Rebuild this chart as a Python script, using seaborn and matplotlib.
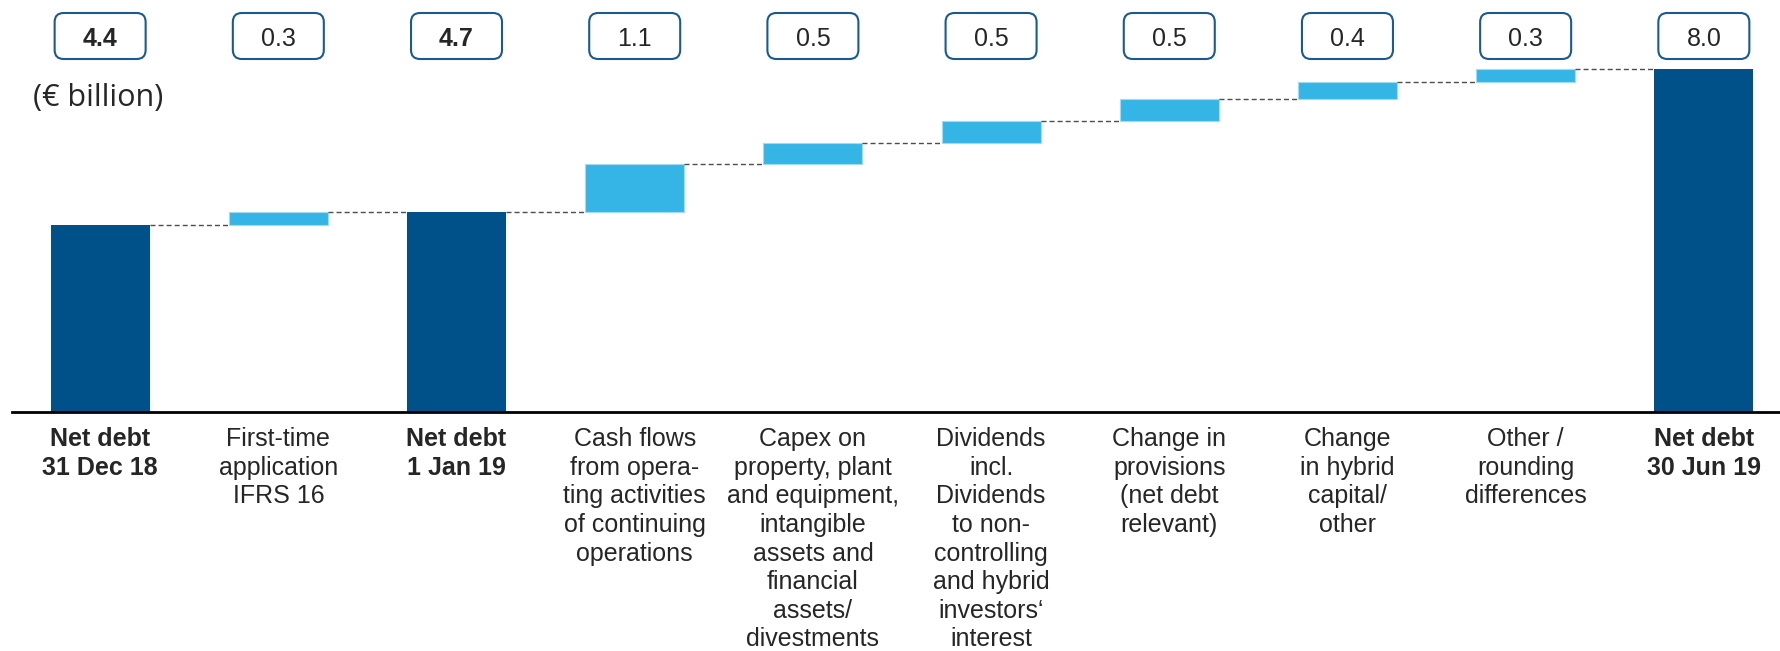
import matplotlib
matplotlib.use("Agg")
import matplotlib.pyplot as plt
import matplotlib.transforms as mtransforms
from matplotlib.patches import FancyBboxPatch
import seaborn as sns
import pandas as pd

# Net debt bridge (€ billion)
labels = [
    "Net debt\n31 Dec 18",
    "First-time\napplication\nIFRS 16",
    "Net debt\n1 Jan 19",
    "Cash flows\nfrom opera-\nting activities\nof continuing\noperations",
    "Capex on\nproperty, plant\nand equipment,\nintangible\nassets and\nfinancial\nassets/\ndivestments",
    "Dividends\nincl.\nDividends\nto non-\ncontrolling\nand hybrid\ninvestors\u2018\ninterest",
    "Change in\nprovisions\n(net debt\nrelevant)",
    "Change\nin hybrid\ncapital/\nother",
    "Other /\nrounding\ndifferences",
    "Net debt\n30 Jun 19",
]
values = [4.4, 0.3, 4.7, 1.1, 0.5, 0.5, 0.5, 0.4, 0.3, 8.0]
is_total = [True, False, True, False, False, False, False, False, False, True]
value_text = ["4.4", "0.3", "4.7", "1.1", "0.5", "0.5", "0.5", "0.4", "0.3", "8.0"]
bold_value = [True, False, True, False, False, False, False, False, False, False]
unit_label = "(\u20ac billion)"

DARK = "#005189"
LIGHT = "#35B5E6"
BOX_EDGE = "#1A5A90"
BAR_WIDTH = 0.556


def build_frame():
    """Turn the bridge values into bottoms/tops for floating bars"""
    rows = []
    level = 0.0
    for name, val, total in zip(labels, values, is_total):
        if total:
            bottom = 0.0
            level = val
        else:
            bottom = level
            level = level + val
        rows.append({"label": name, "height": val, "bottom": bottom,
                     "top": level, "total": total})
    return pd.DataFrame(rows)


sns.set_style("white")
plt.rcParams["font.family"] = ["Liberation Sans", "DejaVu Sans"]

df = build_frame()
fig = plt.figure(figsize=(17.81, 6.51), dpi=100)
ax = fig.add_axes([0.0066, 0.3671, 0.9934, 0.5469])

totals = df[df["total"]]
changes = df[~df["total"]]
sns.barplot(data=totals, x="label", y="height", order=labels, color=DARK,
            saturation=1, width=BAR_WIDTH, errorbar=None, linewidth=0, ax=ax)
sns.barplot(data=changes, x="label", y="height", order=labels, color=LIGHT,
            saturation=1, width=BAR_WIDTH, errorbar=None,
            bottom=changes["bottom"].values, edgecolor="#A3DAF3",
            linewidth=0.8, ax=ax)

# dashed connectors between consecutive bars
for i in range(len(df) - 1):
    ax.hlines(df["top"].iloc[i], i + BAR_WIDTH / 2, i + 1 - BAR_WIDTH / 2,
              colors="#4d4d4d", linestyles=(0, (3.6, 2.2)), linewidth=1.0)

ax.set_xlim(-0.496, 9.433)
ax.set_ylim(0.08, 8.3)
sns.despine(ax=ax, left=True)
ax.spines["bottom"].set_linewidth(2)
ax.spines["bottom"].set_color("black")
ax.set_xticks([])
ax.set_yticks([])
ax.set_xlabel("")
ax.set_ylabel("")

# category labels under the axis
for i, name in enumerate(labels):
    ax.annotate(name, xy=(i, 0), xycoords=ax.get_xaxis_transform(),
                xytext=(0, -11), textcoords="offset points",
                ha="center", va="top", fontsize=18, linespacing=1.24,
                fontweight="bold" if is_total[i] else "normal",
                annotation_clip=False)

# value boxes along the top
box_y = 1 - 36 / 651
blend = mtransforms.blended_transform_factory(ax.transData, fig.transFigure)
for i, txt in enumerate(value_text):
    anchor = mtransforms.ScaledTranslation(i, box_y, blend)
    box = FancyBboxPatch((-0.455, -0.23), 0.91, 0.46,
                         boxstyle="round,pad=0,rounding_size=0.09",
                         transform=fig.dpi_scale_trans + anchor,
                         facecolor="white", edgecolor=BOX_EDGE, linewidth=1.5,
                         zorder=2)
    fig.add_artist(box)
    fig.text(i, box_y, txt, transform=blend, ha="center",
             va="center_baseline", fontsize=18, zorder=3,
             fontweight="bold" if bold_value[i] else "normal")

fig.text(33 / 1781, 1 - 106 / 651, unit_label, fontsize=22,
         family=["Open Sans", "DejaVu Sans"], ha="left", va="baseline")

fig.savefig("out.png", dpi=100)
plt.close(fig)
